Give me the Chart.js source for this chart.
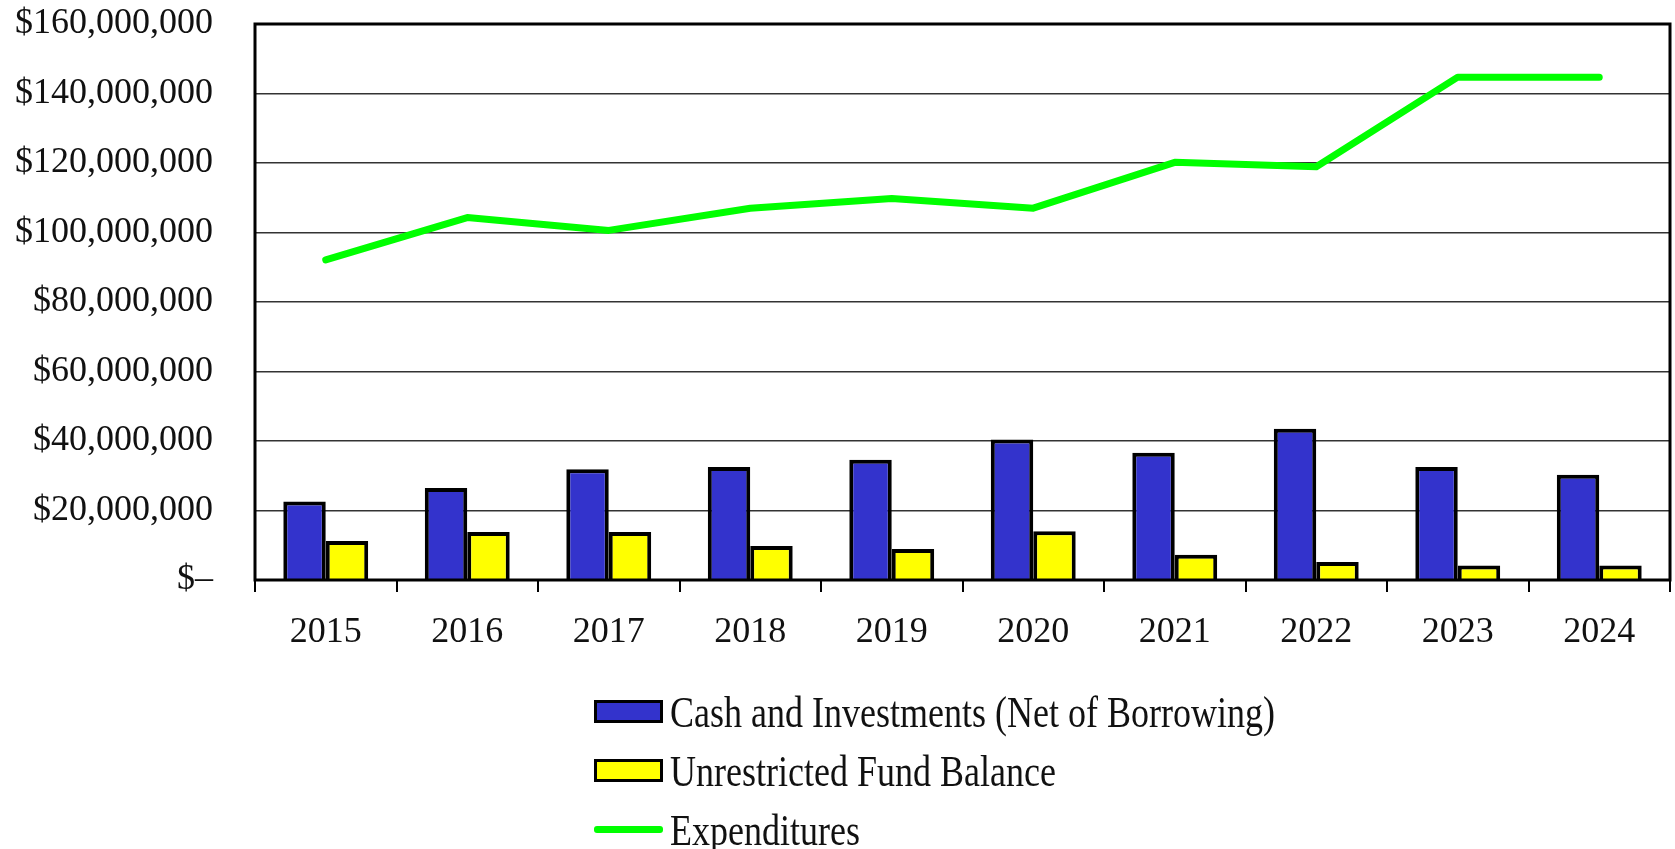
<!DOCTYPE html>
<html lang="en">
<head>
  <meta charset="UTF-8">
  <title>Cash, Fund Balance and Expenditures</title>
  <script src="https://cdn.jsdelivr.net/npm/chart.js@4.4.0/dist/chart.umd.min.js"></script>
  <style>
    body { margin: 0; background: #fff; font-family: "Liberation Serif", "Times New Roman", serif; }
    #wrap { position: relative; width: 1675px; height: 849px; }
    #legend { position: absolute; left: 594px; top: 682px; }
    .row { display: flex; align-items: center; height: 59px; }
    .swatch { width: 63px; height: 17px; border: 3px solid #000; box-sizing: content-box; margin-right: 7px; }
    .lineSwatch { width: 69px; height: 7px; border-radius: 3px; margin-right: 7px; }
    .txt { font-size: 45px; line-height: 50px; color: #111; white-space: nowrap; transform: scaleX(0.8); transform-origin: left center; }
  </style>
</head>
<body>
  <div id="wrap">
    <canvas id="chart" width="1675" height="849"></canvas>
    <div id="legend"></div>
  </div>

  <script>
    // data
    const years = ['2015', '2016', '2017', '2018', '2019', '2020', '2021', '2022', '2023', '2024'];
    const cashInvestments = [22.6, 26.5, 31.9, 32.5, 34.6, 40.4, 36.6, 43.5, 32.5, 30.3].map(v => v * 1e6);
    const fundBalance = [11.2, 13.8, 13.8, 9.8, 8.9, 14.0, 7.3, 5.2, 4.2, 4.2].map(v => v * 1e6);
    const expenditures = [92.1, 104.3, 100.6, 107.0, 109.8, 107.0, 120.2, 118.9, 144.7, 144.7].map(v => v * 1e6);
    const yTicks = [0, 20e6, 40e6, 60e6, 80e6, 100e6, 120e6, 140e6, 160e6];

    const seriesNames = ['Cash and Investments (Net of Borrowing)', 'Unrestricted Fund Balance', 'Expenditures'];
    const colors = ['#3333cc', '#ffff00', '#00ff00'];

    // black frame round the plot area
    const frame = {
      id: 'frame',
      afterDraw(chart) {
        const a = chart.chartArea, ctx = chart.ctx;
        ctx.save();
        ctx.strokeStyle = '#000';
        ctx.lineWidth = 3;
        ctx.strokeRect(a.left, a.top, a.right - a.left, a.bottom - a.top);
        ctx.restore();
      }
    };

    const serif = '"Liberation Serif", "Times New Roman", serif';

    new Chart(document.getElementById('chart'), {
      type: 'bar',
      data: {
        labels: years,
        datasets: [
          { type: 'line', label: seriesNames[2], data: expenditures, borderColor: colors[2], backgroundColor: colors[2],
            borderWidth: 7, pointRadius: 0, tension: 0, borderCapStyle: 'round', borderJoinStyle: 'round', order: 0 },
          { label: seriesNames[0], data: cashInvestments, backgroundColor: colors[0], borderColor: '#000',
            borderWidth: 4, categoryPercentage: 0.6, barPercentage: 1.0, order: 1 },
          { label: seriesNames[1], data: fundBalance, backgroundColor: colors[1], borderColor: '#000',
            borderWidth: 4, categoryPercentage: 0.6, barPercentage: 1.0, order: 1 }
        ]
      },
      options: {
        responsive: false,
        animation: false,
        layout: { padding: { top: 24, right: 5, bottom: 0, left: 0 } },
        plugins: { legend: { display: false }, tooltip: { enabled: false } },
        scales: {
          x: {
            grid: { offset: true, drawOnChartArea: false, drawTicks: true, tickLength: 12, color: '#000', lineWidth: 2 },
            border: { display: false },
            ticks: { color: '#111', font: { family: serif, size: 36 }, padding: 19, maxRotation: 0 },
            afterFit(scale) { scale.height = 269; scale.paddingLeft = 0; scale.paddingRight = 0; }
          },
          y: {
            min: 0, max: 160e6,
            afterBuildTicks(scale) { scale.ticks = yTicks.map(v => ({ value: v })); },
            grid: { color: '#333', lineWidth: 1.5, drawTicks: false },
            border: { display: false },
            ticks: {
              color: '#111', font: { family: serif, size: 36 }, padding: 42,
              callback: v => v === 0 ? '$\u2013' : '$' + v.toLocaleString('en-US')
            },
            afterFit(scale) { scale.width = 255; scale.paddingTop = 0; scale.paddingBottom = 0; }
          }
        }
      },
      plugins: [frame]
    });

    // legend drawn as html so the text can be narrowed like the original
    const legend = document.getElementById('legend');
    seriesNames.forEach((name, i) => {
      const row = document.createElement('div');
      row.className = 'row';
      const sw = document.createElement('div');
      sw.className = i < 2 ? 'swatch' : 'lineSwatch';
      sw.style.background = colors[i];
      const t = document.createElement('span');
      t.className = 'txt';
      t.textContent = name;
      row.appendChild(sw);
      row.appendChild(t);
      legend.appendChild(row);
    });
  </script>
</body>
</html>
